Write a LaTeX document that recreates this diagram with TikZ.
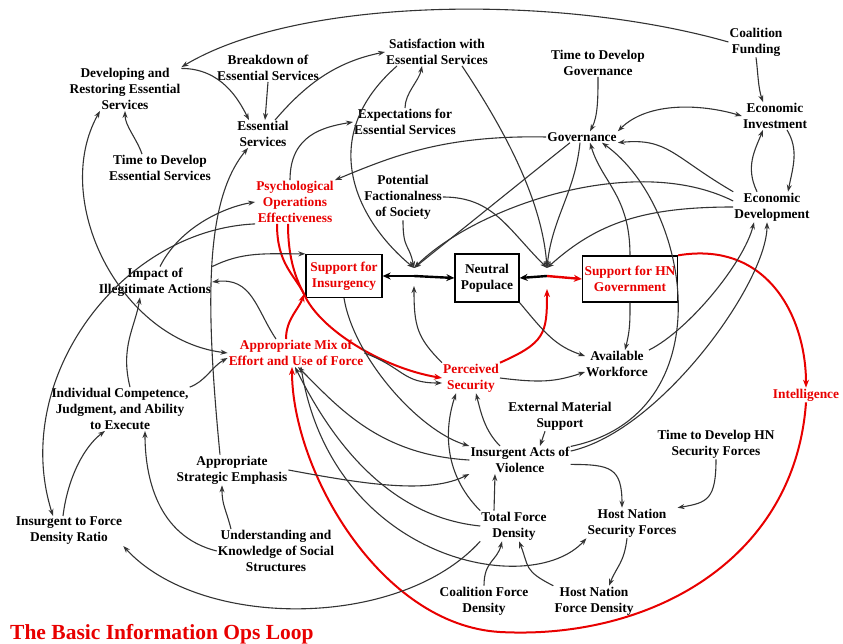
\documentclass[tikz,border=0pt]{standalone}
\usepackage{fontspec}
\setmainfont{Liberation Serif}
\usetikzlibrary{arrows.meta}
\definecolor{rd}{RGB}{232,0,0}
\begin{document}
\begin{tikzpicture}[x=1pt,y=-1pt,
  lbl/.style={font=\fontsize{13.4}{16}\selectfont\bfseries, align=center, inner sep=1pt},
  rlbl/.style={lbl, text=rd},
  boxn/.style={draw=black, line width=1.3pt, inner sep=2pt},
  ln/.style={draw=black!80, line width=1.1pt, -{Stealth[length=7pt,width=5pt]}},
  lnb/.style={draw=black!80, line width=1.1pt, {Stealth[length=7pt,width=5pt]}-{Stealth[length=7pt,width=5pt]}},
  rln/.style={draw=rd, line width=2pt, -{Stealth[length=8pt,width=6pt]}},
  flow/.style={draw=black, line width=2.4pt, -{Stealth[length=8pt,width=7pt]}},
]
\useasboundingbox (0,0) rectangle (843,644);
% ---------------- nodes
\node[lbl] (coal) at (756,42) {Coalition\\Funding};
\node[lbl] (dev) at (125,89) {Developing and\\Restoring Essential\\Services};
\node[lbl] (brk) at (268,68) {Breakdown of\\Essential Services};
\node[lbl] (sat) at (437,52) {Satisfaction with\\Essential Services};
\node[lbl] (tgov) at (598,63) {Time to Develop\\Governance};
\node[lbl] (ess) at (263,134) {Essential\\Services};
\node[lbl] (exp) at (405,122) {Expectations for\\Essential Services};
\node[lbl] (einv) at (775,116) {Economic\\Investment};
\node[lbl] (gov) at (582,137) {Governance};
\node[lbl] (tdes) at (160,168) {Time to Develop\\Essential Services};
\node[rlbl] (psy) at (295,202) {Psychological\\Operations\\Effectiveness};
\node[lbl] (pot) at (403,197) {Potential\\Factionalness\\of Society};
\node[lbl] (edev) at (772,207) {Economic\\Development};
\node[rlbl,boxn,minimum width=76pt,minimum height=43pt] (sins) at (344,276) {Support for\\Insurgency};
\node[lbl,boxn,minimum width=64pt,minimum height=48pt] (neu) at (487,278) {Neutral\\Populace};
\node[rlbl,boxn,minimum width=95pt,minimum height=46pt] (shn) at (630,279) {Support for HN\\Government};
\node[lbl] (imp) at (155,282) {Impact of\\Illegitimate Actions};
\node[rlbl] (mix) at (296,353) {Appropriate Mix of\\Effort and Use of Force};
\node[rlbl] (sec) at (471,378) {Perceived\\Security};
\node[lbl] (work) at (617,364) {Available\\Workforce};
\node[rlbl] (intel) at (806,395) {Intelligence};
\node[lbl] (ind) at (120,409) {Individual Competence,\\Judgment, and Ability\\to Execute};
\node[lbl] (ext) at (560,416) {External Material\\Support};
\node[lbl] (thn) at (716,444) {Time to Develop HN\\Security Forces};
\node[lbl] (iav) at (520,460) {Insurgent Acts of\\Violence};
\node[lbl] (ase) at (232,470) {Appropriate\\Strategic Emphasis};
\node[lbl] (ratio) at (69,531) {Insurgent to Force\\Density Ratio};
\node[lbl] (usk) at (276,551) {Understanding and\\Knowledge of Social\\Structures};
\node[lbl] (tfd) at (514,526) {Total Force\\Density};
\node[lbl] (hnsf) at (632,523) {Host Nation\\Security Forces};
\node[lbl] (cfd) at (484,601) {Coalition Force\\Density};
\node[lbl] (hnfd) at (594,601) {Host Nation\\Force Density};
\node[anchor=base west, text=rd, font=\fontsize{21.5}{25}\selectfont\bfseries, inner sep=0pt] (title) at (10,639) {The Basic Information Ops Loop};
% ---------------- junctions
\coordinate (j1) at (414,276);
\coordinate (j1t) at (414,268);
\coordinate (j1b) at (414,286);
\coordinate (j2) at (547,276);
\coordinate (j2t) at (547,268);
\coordinate (j2b) at (547,289);
\coordinate (xr) at (304,294);
\coordinate (rb) at (500,632);
% ---------------- top part
\draw[ln] (coal.west) .. controls (560,-6) and (300,-4) .. (dev.north east);
\draw[ln] (coal.south) .. controls +(2,15) and +(-5,-15) .. ([xshift=-12pt]einv.north);
\draw[ln] ([xshift=12pt]einv.south) .. controls +(12,20) and +(5,-25) .. ([xshift=16pt]edev.north);
\draw[ln] ([xshift=-15pt]edev.north) .. controls +(-12,-25) and +(-8,20) .. ([xshift=-12pt]einv.south);
\draw[lnb] (gov.north east) .. controls +(30,-30) and +(-40,-12) .. (einv.west);
\draw[ln] (tgov.south) .. controls +(0,20) and +(8,-15) .. ([xshift=8pt]gov.north);
\draw[ln] (edev.north west) .. controls +(-60,-35) and +(50,-5) .. (gov.south east);
\draw[ln] (gov.west) .. controls +(-100,-2) and +(60,-25) .. (psy.north east);
\draw[ln] (dev.20) .. controls +(40,0) and +(-10,-20) .. ([xshift=-14pt]ess.north);
\draw[ln] (brk.south) -- ([xshift=2pt]ess.north);
\draw[ln] ([xshift=12pt]ess.north) .. controls +(30,-35) and +(-50,10) .. (sat.west);
\draw[ln] (exp.north) .. controls +(0,-15) and +(-3,15) .. ([xshift=-15pt]sat.south);
\draw[ln] ([xshift=-5pt]psy.north) .. controls +(0,-45) and +(-30,5) .. (exp.west);
\draw[ln] ([xshift=-18pt]tdes.north) .. controls +(-5,-15) and +(0,15) .. (dev.south);
% ---------------- inputs to the two valves
\draw[ln] ([xshift=-40pt]sat.south) .. controls +(-80,70) and +(-60,-50) .. (j1t);
\draw[ln] ([xshift=25pt]sat.south) .. controls +(40,60) and +(-5,-70) .. (j2t);
\draw[ln] ([xshift=-12pt]gov.south) .. controls +(-50,40) and +(50,-40) .. (j1t);
\draw[ln] ([xshift=-2pt]gov.south) .. controls +(-5,50) and +(5,-50) .. (j2t);
\draw[ln] (shn.north) .. controls +(0,-60) and +(12,40) .. ([xshift=8pt]gov.south);
\draw[ln] (pot.south) .. controls +(0,30) and +(-5,-25) .. (j1t);
\draw[ln] (pot.east) .. controls +(50,0) and +(-40,-40) .. (j2t);
\draw[ln] (edev.west) .. controls +(-90,0) and +(50,-45) .. (j2t);
\draw[ln] ([yshift=6pt]edev.west) .. controls +(-100,-50) and +(60,-60) .. (j1t);
\draw[ln] (sec.north west) .. controls +(-25,-25) and +(0,40) .. (j1b);
% ---------------- flows
\draw[flow] (j1) -- (sins.east);
\draw[flow] (j1) -- (neu.west);
\draw[flow] (j2) -- (neu.east);
\draw[flow, draw=rd] (j2) -- (shn.west);
% ---------------- red loop
\draw[rln] (sec.north east) .. controls +(45,-20) and +(0,45) .. (j2b);
\draw[rln] ([xshift=-18pt]psy.south) .. controls +(0,40) and +(-10,-20) .. (xr) .. controls +(15,35) and +(-60,-10) .. (sec.west);
\draw[rln,-] ([xshift=-7pt]psy.south) .. controls +(0,35) and +(-8,-15) .. (xr);
\draw[rln] ([xshift=-10pt]mix.north) .. controls +(0,-20) and +(-5,15) .. (xr);
\draw[rln] (shn.north east) .. controls +(90,-15) and +(0,-70) .. (intel.north);
\draw[rln] (intel.south) .. controls (795,560) and (650,640) .. (rb) .. controls (380,625) and (292,470) .. ([xshift=-4pt]mix.south);
% ---------------- middle
\draw[ln] (neu.south east) .. controls +(25,30) and +(-30,-10) .. ([yshift=8pt]work.west);
\draw[ln] (shn.south) .. controls +(0,20) and +(5,-20) .. ([xshift=8pt]work.north);
\draw[ln] (sec.east) .. controls +(40,5) and +(-30,10) .. ([yshift=-8pt]work.west);
\draw[ln] (work.north east) .. controls +(40,-20) and +(-10,40) .. ([xshift=-18pt]edev.south);
\draw[ln] (iav.10) .. controls +(90,-20) and +(0,60) .. ([xshift=-5pt]edev.south);
\draw[ln] (iav.15) .. controls +(154,-32) and +(90,65) .. ([xshift=20pt]gov.south);
\draw[ln] (mix.east) .. controls +(40,15) and +(-40,0) .. ([yshift=-5pt]sec.west);
\draw[ln] (sins.south) .. controls +(10,60) and +(-50,-15) .. (iav.north west);
\draw[ln] ([xshift=-20pt]mix.north) .. controls +(-20,-30) and +(40,-5) .. (imp.east);
\draw[ln] (imp.north east) .. controls +(30,-15) and +(-40,0) .. (sins.north west);
\draw[ln] ([xshift=5pt]imp.north) .. controls +(20,-40) and +(-30,5) .. (psy.west);
\draw[ln] (psy.south west) .. controls (120,230) and (10,380) .. ([xshift=-16pt]ratio.north);
\draw[lnb] (mix.west) .. controls (120,340) and (50,200) .. ([xshift=-25pt]dev.south);
\draw[ln] ([xshift=10pt]ind.north) .. controls +(-10,-40) and +(-5,30) .. ([xshift=-15pt]imp.south);
\draw[ln] (ind.north east) .. controls +(15,-5) and +(-15,8) .. ([yshift=-5pt]mix.west);
\draw[ln] ([xshift=-12pt]ase.north) .. controls (205,300) and (205,200) .. ([xshift=-15pt]ess.south);
% ---------------- bottom
\draw[ln] ([xshift=-15pt]ext.south) -- ([xshift=20pt]iav.north);
\draw[ln] (iav.-5) .. controls +(40,0) and +(0,-40) .. ([xshift=-10pt]hnsf.north);
\draw[ln] (thn.south) .. controls +(0,40) and +(30,-5) .. (hnsf.north east);
\draw[ln] ([xshift=-5pt]hnsf.south) .. controls +(-3,25) and +(8,-20) .. ([xshift=15pt]hnfd.north);
\draw[ln] (cfd.north) .. controls +(0,-25) and +(-5,20) .. ([xshift=-12pt]tfd.south);
\draw[ln] (hnfd.north west) .. controls +(-30,-15) and +(10,25) .. ([xshift=5pt]tfd.south);
\draw[ln] ([xshift=-20pt]tfd.north) -- ([xshift=-25pt]iav.south);
\draw[ln] (tfd.north west) .. controls +(-40,-40) and +(-10,30) .. ([xshift=-15pt]sec.south);
\draw[ln] ([xshift=-20pt]iav.north) .. controls +(-15,-15) and +(5,20) .. ([xshift=5pt]sec.south);
\draw[ln] (tfd.south west) .. controls (400,630) and (200,630) .. (ratio.south east);
\draw[ln] ([xshift=5pt]mix.south) .. controls (330,560) and (530,600) .. (hnsf.south west);
\draw[ln] (iav.west) .. controls +(-90,-5) and +(40,40) .. ([xshift=2pt]mix.south);
\draw[ln] (tfd.west) .. controls +(-100,-10) and +(30,60) .. ([xshift=-1pt]mix.south);
\draw[ln] (ase.east) .. controls +(80,15) and +(-40,20) .. (iav.south west);
\draw[ln] ([xshift=-45pt]usk.north) .. controls +(-5,-20) and +(0,20) .. ([xshift=-10pt]ase.south);
\draw[ln] (usk.west) .. controls +(-60,-15) and +(0,45) .. ([xshift=25pt]ind.south);
\draw[ln] ([xshift=-6pt]ratio.north) .. controls +(5,-40) and +(-20,15) .. ([xshift=-15pt]ind.south);
\end{tikzpicture}
\end{document}
